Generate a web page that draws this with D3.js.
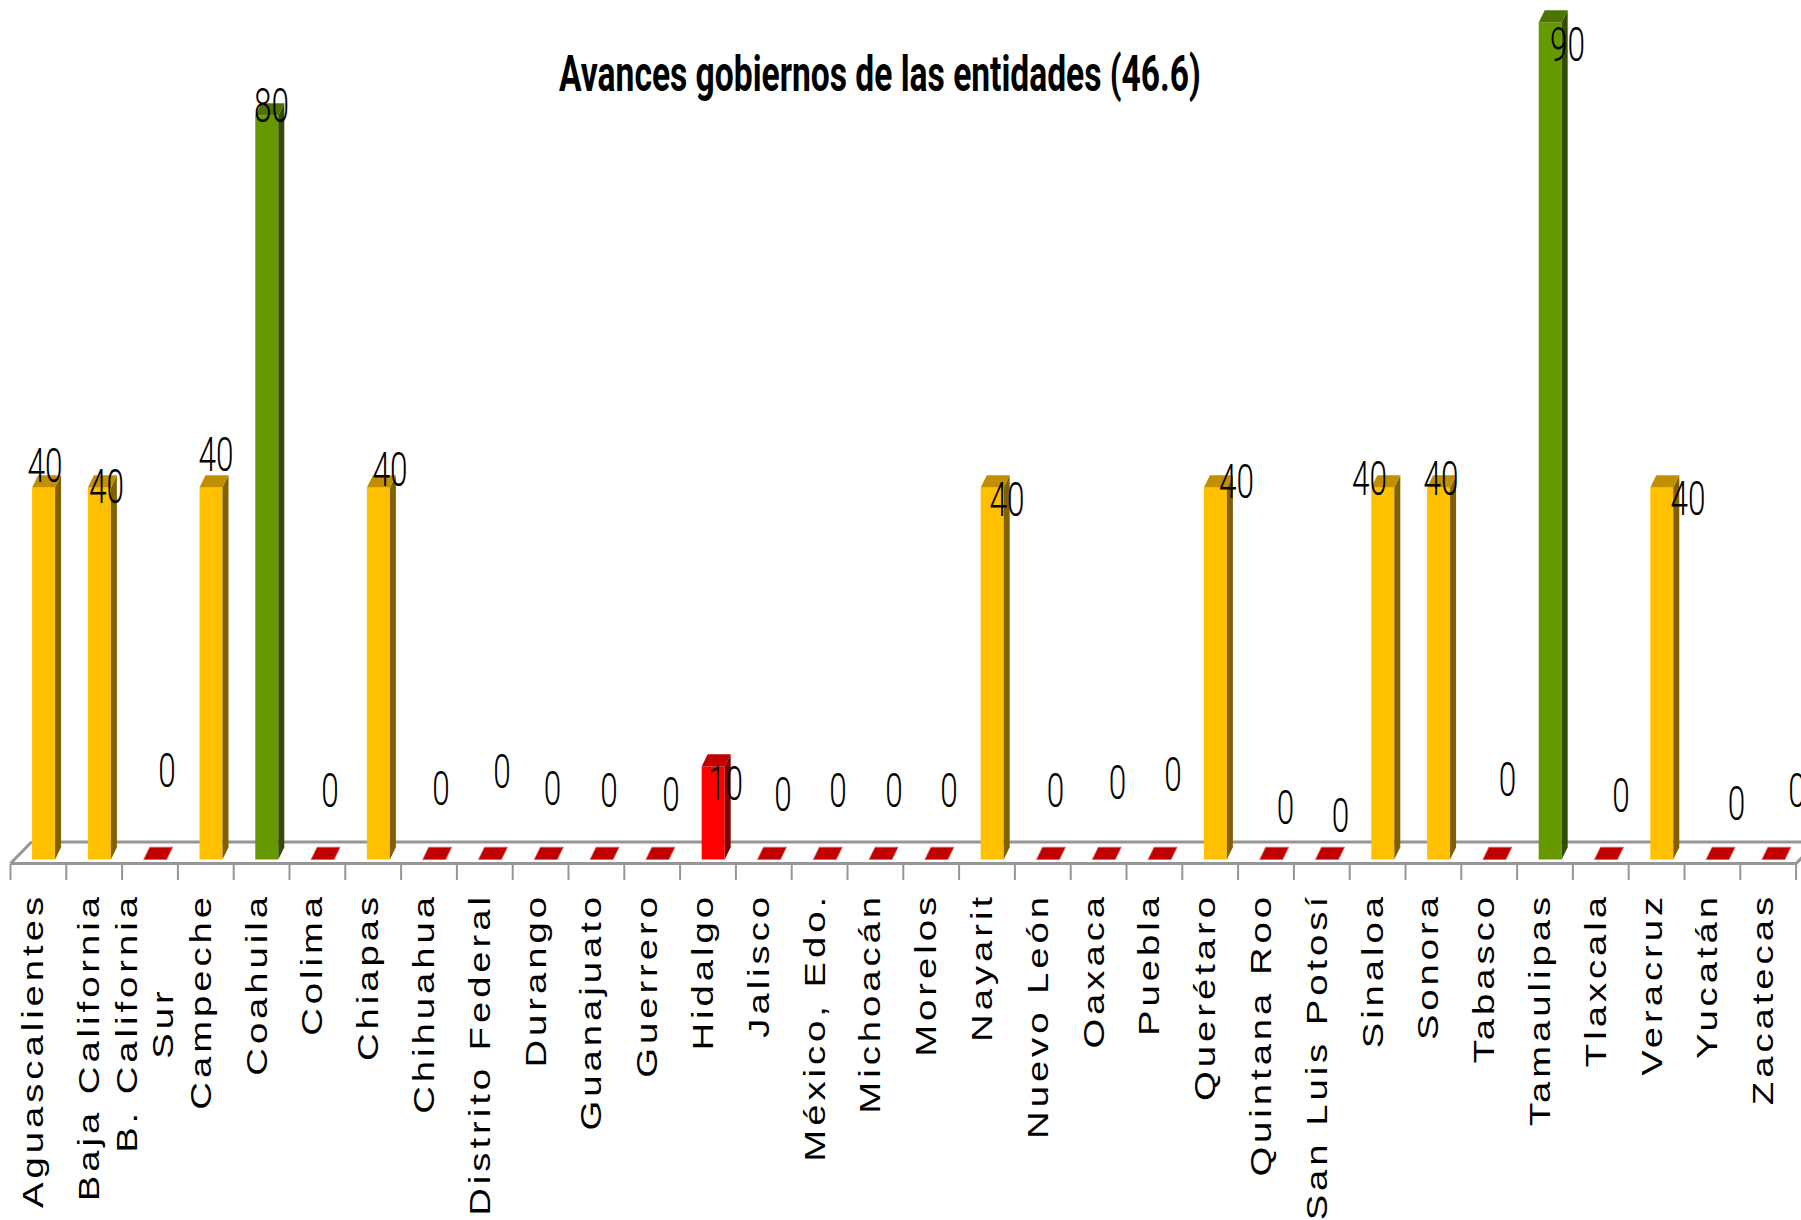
<!DOCTYPE html>
<html><head><meta charset="utf-8">
<script src="https://cdn.jsdelivr.net/npm/d3@7"></script>
<style>html,body{margin:0;padding:0;background:#fff;overflow:hidden}</style>
</head><body><svg id="c" width="1801" height="1220"></svg>
<script>
// ---------- data ----------
const categories = ["Aguascalientes","Baja California","B. California Sur","Campeche","Coahuila","Colima","Chiapas","Chihuahua","Distrito Federal","Durango","Guanajuato","Guerrero","Hidalgo","Jalisco","México, Edo.","Michoacán","Morelos","Nayarit","Nuevo León","Oaxaca","Puebla","Querétaro","Quintana Roo","San Luis Potosí","Sinaloa","Sonora","Tabasco","Tamaulipas","Tlaxcala","Veracruz","Yucatán","Zacatecas"];
const values = [40,40,0,40,80,0,40,0,0,0,0,0,10,0,0,0,0,40,0,0,0,40,0,0,40,40,0,90,0,40,0,0];
const chartTitle = "Avances gobiernos de las entidades (46.6)";
const yDomain = [0, 90];

// ---------- layout (label nudges, px) ----------
const labelDx = [6.6,12.3,17,10.2,9.9,12.6,16.8,12,17.2,11.9,12.6,18.8,17.5,19.2,18.4,18.6,17.8,20,12.7,18.9,18.6,26.3,19.5,18.7,-8.1,7.6,18.3,22.5,20.2,31.4,24.1,28.8];
const labelDy = [-22.5,-2,-89.5,-33.5,-11,-69.5,-18.5,-71.5,-88.5,-71.5,-69.5,-65.5,16,-65.5,-69.5,-69.5,-69.5,11,-69.5,-77.5,-85.5,-7,-52.5,-44.5,-10,-10,-81,21,-65,10,-57,-69.5];

const W = 1801, H = 1220;
const svg = d3.select("#c");
const x = d3.scaleBand().domain(categories).range([10.5, 1796.1]).padding(0);
const y = d3.scaleLinear().domain(yDomain).range([859.5, 22.5]);
const bw = x.bandwidth();
const barOff = bw * 0.387, barW = bw * 0.412, depX = 6, depY = -12.3;
const floorFront = 863.5, floorBack = 842, floorDx = 21;
const gridCol = "#969696";

function palette(v) {
  if (v >= 80) return {front: "#669900", top: "#4d7300", side: "#334d00"};
  if (v >= 40) return {front: "#ffc000", top: "#c09000", side: "#806000"};
  return {front: "#ff0000", top: "#c00000", side: "#800000"};
}

// ---------- floor ----------
const x0 = x.range()[0], x1 = x.range()[1];
svg.append("path")
  .attr("d", `M${x0 + floorDx},${floorBack} L${W + 5},${floorBack} M${x0},${floorFront} L${x1},${floorFront} L${x1 + floorDx},${floorBack} M${x0},${floorFront} L${x0 + floorDx},${floorBack}`)
  .attr("fill", "none").attr("stroke", gridCol).attr("stroke-width", 3);

const tickXs = categories.map(c => x(c)).concat([x1]);
svg.append("g").selectAll("line").data(tickXs).join("line")
  .attr("x1", d => d).attr("x2", d => d)
  .attr("y1", floorFront).attr("y2", 880)
  .attr("stroke", gridCol).attr("stroke-width", 2);

// ---------- bars ----------
const gb = svg.append("g");
categories.forEach((c, i) => {
  const v = values[i];
  const p = palette(v);
  const bx = x(c) + barOff;
  const yt = y(v), yb = y(0);
  if (v > 0) {
    gb.append("rect").attr("x", bx).attr("y", yt).attr("width", barW).attr("height", yb - yt).attr("fill", p.front);
    gb.append("path").attr("d", `M${bx + barW},${yt} L${bx + barW + depX},${yt + depY} L${bx + barW + depX},${yb + depY} L${bx + barW},${yb} Z`).attr("fill", p.side);
  }
  gb.append("path").attr("d", `M${bx},${yt} L${bx + barW},${yt} L${bx + barW + depX},${yt + depY} L${bx + depX},${yt + depY} Z`)
    .attr("fill", p.top)
    .attr("stroke", v > 0 ? "none" : "#e06060").attr("stroke-width", v > 0 ? 0 : 0.8);
});

// ---------- value labels ----------
const gv = svg.append("g");
const probe = gv.append("text").attr("font-family", "Roboto, 'DejaVu Sans', sans-serif").attr("font-size", 49).attr("font-weight", 300).text("40");
const probeW = probe.node().getBBox().width;
probe.remove();
const vsx = 35 / probeW;
categories.forEach((c, i) => {
  const cx = x(c) + bw / 2 + labelDx[i];
  const cy = y(values[i]) + labelDy[i];
  gv.append("text")
    .attr("transform", `translate(${cx},${cy}) scale(${vsx},1)`)
    .attr("text-anchor", "middle").attr("dy", "0.355em")
    .attr("font-family", "Roboto, 'DejaVu Sans', sans-serif").attr("font-size", 49).attr("font-weight", 300)
    .attr("fill", "#000")
    .text(values[i]);
});

// ---------- title ----------
const tt = svg.append("text")
  .attr("font-family", "Roboto, 'DejaVu Sans', sans-serif").attr("font-size", 50).attr("font-weight", 700)
  .attr("text-anchor", "middle").attr("fill", "#000").text(chartTitle);
const tW = tt.node().getComputedTextLength();
tt.attr("transform", `translate(880,91) scale(${642 / tW},1)`);

// ---------- category labels ----------
const axFont = 29, axLs = 3, axSx = 1.32, axTop = 893, lineGap = 36;
function wrapLabel(s) {
  if (s.length <= 16) return [s];
  const k = s.lastIndexOf(" ");
  return [s.slice(0, k), s.slice(k + 1)];
}
const ga = svg.append("g");
categories.forEach((c, i) => {
  const lines = wrapLabel(c);
  const cx = x(c) + bw / 2 + 5;
  const g = ga.append("g").attr("transform", `translate(${cx},${axTop}) rotate(-90) scale(${axSx},1)`);
  const n = lines.length;
  const texts = lines.map((ln, j) => g.append("text")
    .attr("font-family", "'Liberation Sans', Arial, sans-serif").attr("font-size", axFont)
    .attr("letter-spacing", axLs).attr("fill", "#000")
    .attr("y", (j - (n - 1) / 2) * lineGap)
    .text(ln));
  const lens = texts.map(t => t.node().getComputedTextLength());
  const L = d3.max(lens);
  texts.forEach((t, j) => {
    if (n === 1) t.attr("text-anchor", "end").attr("x", 0);
    else t.attr("text-anchor", "middle").attr("x", -L / 2);
  });
});
</script>
</body></html>
